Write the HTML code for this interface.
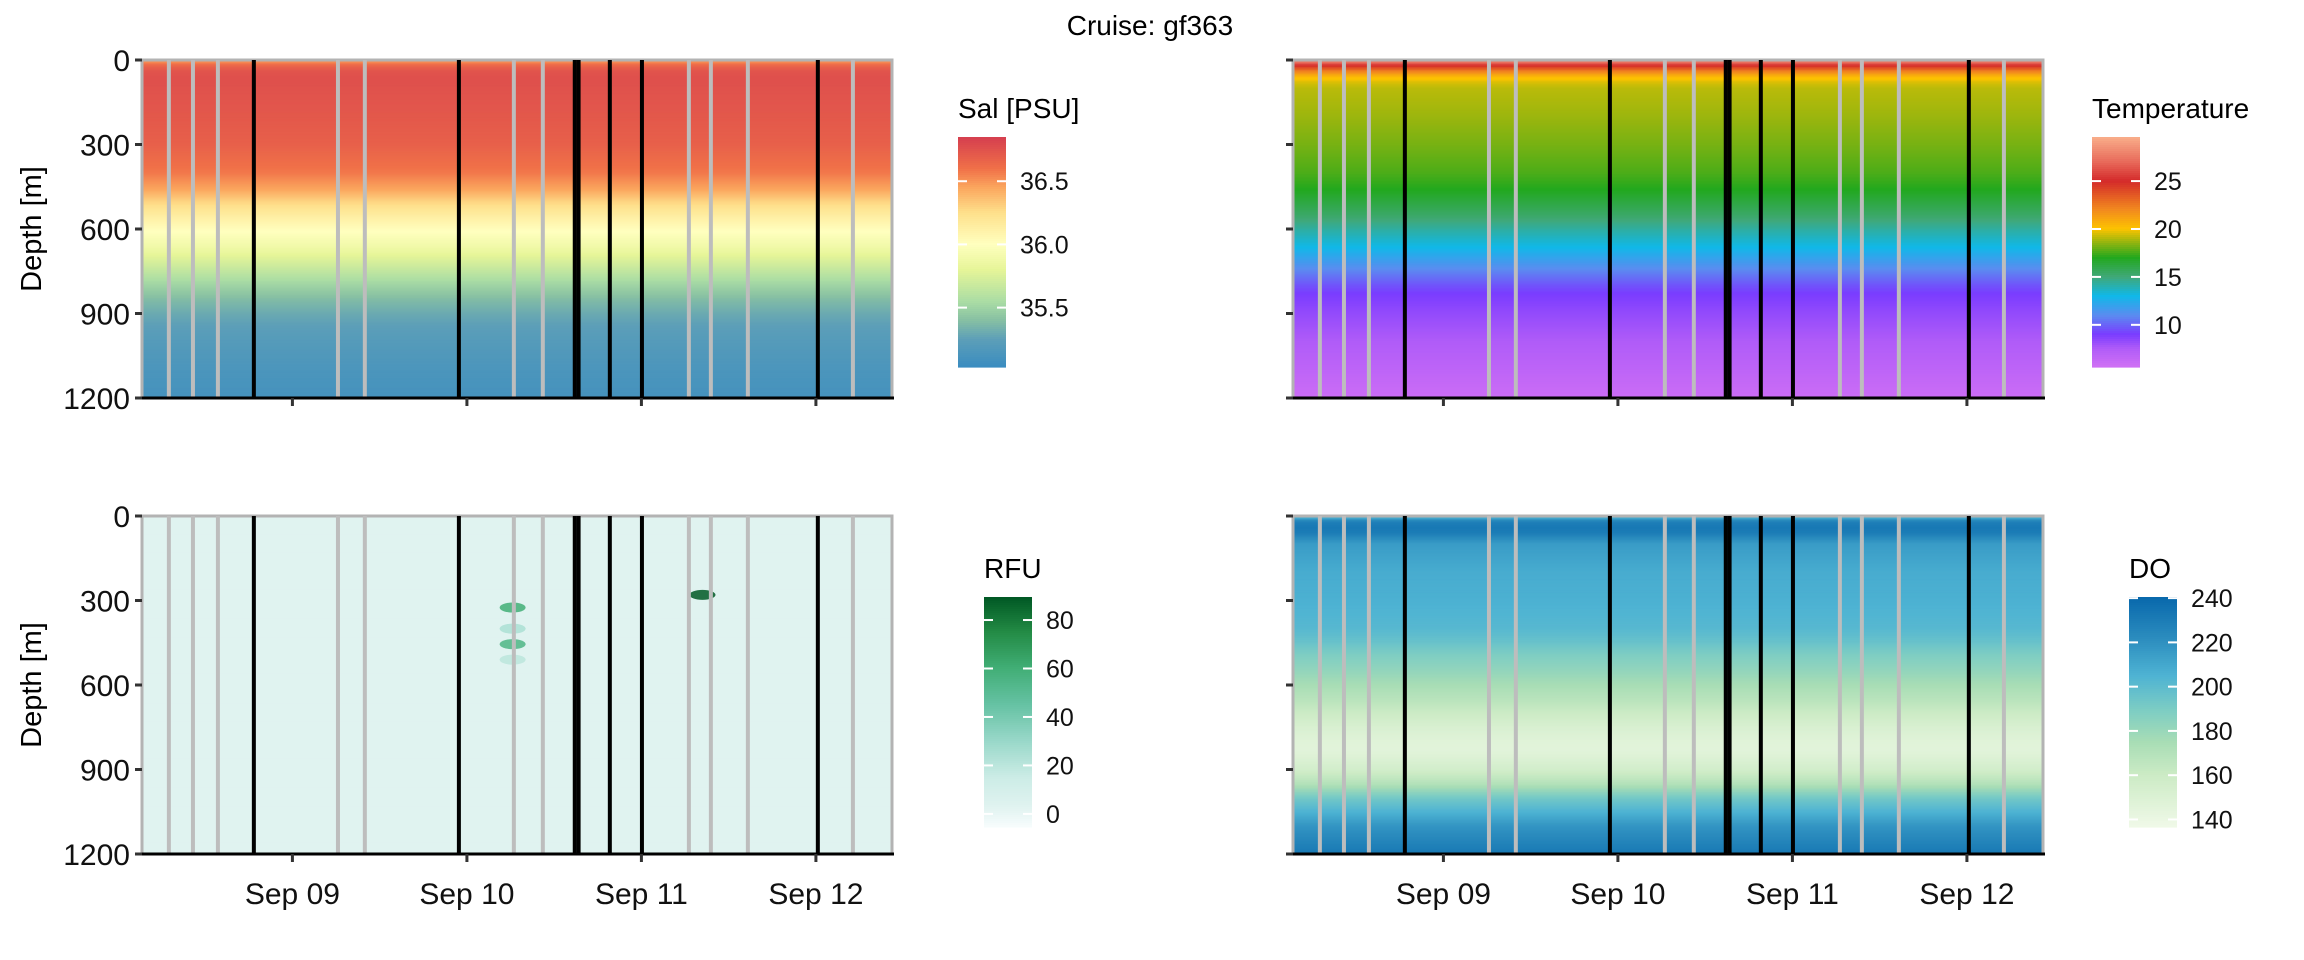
<!DOCTYPE html>
<html><head><meta charset="utf-8">
<style>
html,body{margin:0;padding:0;background:#fff;}
svg{display:block;font-family:"Liberation Sans",Arial,sans-serif;}
</style></head>
<body>
<svg id="chart" width="2304" height="960" viewBox="0 0 2304 960" xmlns="http://www.w3.org/2000/svg">
<text x="1150" y="35" font-size="28" text-anchor="middle" fill="#000">Cruise: gf363</text>
</svg>
<script>
// ---- data ----
const depthTicks = [0,300,600,900,1200];
const dateTicks = [0,1,2,3];
const dateLabels = ["Sep 09","Sep 10","Sep 11","Sep 12"];
const grayStations = [-0.708,-0.570,-0.427,0.261,0.415,1.269,1.435,2.272,2.398,2.610,3.212];
const blackStations = [-0.221,0.954,1.618,1.640,1.819,2.003,3.011];
const profileDepths = [0,10,20,40,60,80,100,200,300,400,450,460,500,550,600,665,700,750,800,830,850,900,950,1000,1100,1200];
const salValues = [36.45,36.55,36.65,36.74,36.76,36.76,36.75,36.72,36.68,36.58,36.47,36.45,36.3,36.15,36.02,35.88,35.78,35.64,35.5,35.43,35.38,35.3,35.24,35.2,35.14,35.1];
const tempValues = [28.5,27,25,22.3,20.3,19.5,19.1,18.7,18.2,17.6,17.1,17,16.3,15.4,14.3,13,12.1,10.8,9.6,9,8.8,8.3,7.9,7.5,6.7,5.9];
const rfuValues = [3,3,3,3,3,3,3,3,3,3,3,3,3,3,3,3,3,3,3,3,3,3,3,3,3,3];
const doValues = [195,215,228,232,230,222,215,208,206,202,196,194,188,182,175,166,160,152,147,146,148,156,170,192,218,232];
const rfuSpots = [[1.262,325,60],[1.262,400,25],[1.262,455,55],[1.262,510,20],[2.35,280,90]];
const salTicks = [35.5,36.0,36.5];
const tempTicks = [10,15,20,25];
const rfuTicks = [0,20,40,60,80];
const doTicks = [140,160,180,200,220,240];

// colour scales [value,color]
const salScale = [[35.03,"#3a8cc0"],[35.25,"#5d9fb8"],[35.4,"#87c0a3"],[35.55,"#abdda4"],[35.8,"#e6f598"],[36.0,"#ffffbf"],[36.25,"#fee08b"],[36.45,"#fba65e"],[36.6,"#f07048"],[36.85,"#d53e4f"]];
const tempScale = [[5.6,"#d070f5"],[7.5,"#b05cf8"],[9,"#7a3cff"],[11,"#5a8cf0"],[13,"#10b8e8"],[15,"#40a878"],[17,"#22a81e"],[18.5,"#8db410"],[20,"#fdc300"],[22,"#f28a1e"],[25,"#d42a2a"],[27,"#e86a5a"],[29.6,"#f9ae8a"]];
const rfuScale = [[-5.4,"#f7fcfd"],[3,"#e0f3f0"],[15,"#ccece6"],[30,"#99d8c9"],[45,"#66c2a4"],[60,"#41ae76"],[75,"#238b45"],[89.5,"#005824"]];
const doScale = [[136.6,"#f0f9e8"],[160,"#ccebc5"],[175,"#a8ddb5"],[190,"#7bccc4"],[205,"#4eb3d3"],[222,"#2b8cbe"],[240.5,"#0868ac"]];

// ---- helpers ----
const NS="http://www.w3.org/2000/svg";
const svg=document.getElementById('chart');
function mk(tag,attrs,parent){const e=document.createElementNS(NS,tag);for(const k in attrs)e.setAttribute(k,attrs[k]);(parent||svg).appendChild(e);return e;}
function hex(c){return [1,3,5].map(i=>parseInt(c.substr(i,2),16));}
function colorAt(scale,v){
  if(v<=scale[0][0])return scale[0][1];
  for(let i=1;i<scale.length;i++){if(v<=scale[i][0]){const a=scale[i-1],b=scale[i];const t=(v-a[0])/(b[0]-a[0]);const ca=hex(a[1]),cb=hex(b[1]);return 'rgb('+ca.map((x,j)=>Math.round(x+(cb[j]-x)*t)).join(',')+')';}}
  return scale[scale.length-1][1];
}
function interp(xs,ys,x){if(x<=xs[0])return ys[0];for(let i=1;i<xs.length;i++){if(x<=xs[i]){const t=(x-xs[i-1])/(xs[i]-xs[i-1]);return ys[i-1]+(ys[i]-ys[i-1])*t;}}return ys[ys.length-1];}

const PW=750, PH=338, D0=-0.862, D1=3.436;
function panel(name,px,py,values,scale,showY,showX,spots){
  const xS=d=>px+(d-D0)/(D1-D0)*PW;
  const yS=z=>py+z/1200*PH;
  const g=mk('g',{});
  
  
  for(let z=0;z<1200;z+=5){
    const r=mk('rect',{x:px,y:yS(z),width:PW,height:PH/240+0.6,fill:colorAt(scale,interp(profileDepths,values,z+2.5))},g);
    
    
  }
  if(spots){
    spots.forEach(s=>{
      const c=mk('ellipse',{cx:xS(s[0]),cy:yS(s[1]),rx:13,ry:5,fill:colorAt(scale,s[2]),opacity:0.85},g);
      
      
    });
  }
  mk('rect',{x:px,y:py,width:PW,height:PH,fill:'none',stroke:'#b3b3b3','stroke-width':3},g);
  grayStations.forEach(d=>{
    const l=mk('line',{x1:xS(d),x2:xS(d),y1:py,y2:py+PH,stroke:'#bdbdbd','stroke-width':4},g);
    
    
  });
  blackStations.forEach(d=>{
    const l=mk('line',{x1:xS(d),x2:xS(d),y1:py,y2:py+PH,stroke:'#000','stroke-width':4},g);
    
    
  });
  mk('line',{x1:px-2,x2:px+PW+2,y1:py+PH,y2:py+PH,stroke:'#000','stroke-width':3},g);
  depthTicks.forEach(z=>{
    mk('line',{x1:px-7,x2:px,y1:yS(z),y2:yS(z),stroke:'#333','stroke-width':3},g);
    if(showY){const t=mk('text',{x:px-12,y:yS(z)+11,'font-size':30,'text-anchor':'end',fill:'#111'},g);t.textContent=z;
      
      }
  });
  dateTicks.forEach((d,i)=>{
    mk('line',{x1:xS(d),x2:xS(d),y1:py+PH,y2:py+PH+8,stroke:'#333','stroke-width':3},g);
    if(showX){const t=mk('text',{x:xS(d),y:py+PH+50,'font-size':30,'text-anchor':'middle',fill:'#111'},g);t.textContent=dateLabels[i];
      
      }
  });
  if(showY){
    const t=mk('text',{x:0,y:0,'font-size':29,'text-anchor':'middle',fill:'#000',transform:`translate(41,${py+PH/2}) rotate(-90)`},g);
    t.textContent='Depth [m]';
    
    
  }
}
function legend(name,title,lx,ty,scale,ticks,fmt){
  const g=mk('g',{});
  
  
  const top=ty+17, bot=top+230, bw=48;
  const vmin=scale[0][0], vmax=scale[scale.length-1][0];
  const yS=v=>bot-(v-vmin)/(vmax-vmin)*(bot-top);
  const t=mk('text',{x:lx,y:ty-2,'font-size':28,fill:'#000'},g);t.textContent=title;
  
  
  for(let i=0;i<115;i++){
    const v=vmax-(i+0.5)/115*(vmax-vmin);
    mk('rect',{x:lx,y:top+i*2,width:bw,height:2.6,fill:colorAt(scale,v)},g);
  }
  ticks.forEach(v=>{
    const y=yS(v);
    mk('line',{x1:lx,x2:lx+9,y1:y,y2:y,stroke:'#fff','stroke-width':2},g);
    mk('line',{x1:lx+bw-9,x2:lx+bw,y1:y,y2:y,stroke:'#fff','stroke-width':2},g);
    const l=mk('text',{x:lx+bw+14,y:y+9,'font-size':25,fill:'#111'},g);l.textContent=fmt(v);
    
    
  });
}
panel('salinity',142,60,salValues,salScale,true,false,null);
panel('temperature',1293,60,tempValues,tempScale,false,false,null);
panel('rfu',142,516,rfuValues,rfuScale,true,true,rfuSpots);
panel('do',1293,516,doValues,doScale,false,true,null);
legend('salinity','Sal [PSU]',958,120,salScale,salTicks,v=>v.toFixed(1));
legend('temperature','Temperature',2092,120,tempScale,tempTicks,v=>String(v));
legend('rfu','RFU',984,580,rfuScale,rfuTicks,v=>String(v));
legend('do','DO',2129,580,doScale,doTicks,v=>String(v));
</script>
</body></html>
